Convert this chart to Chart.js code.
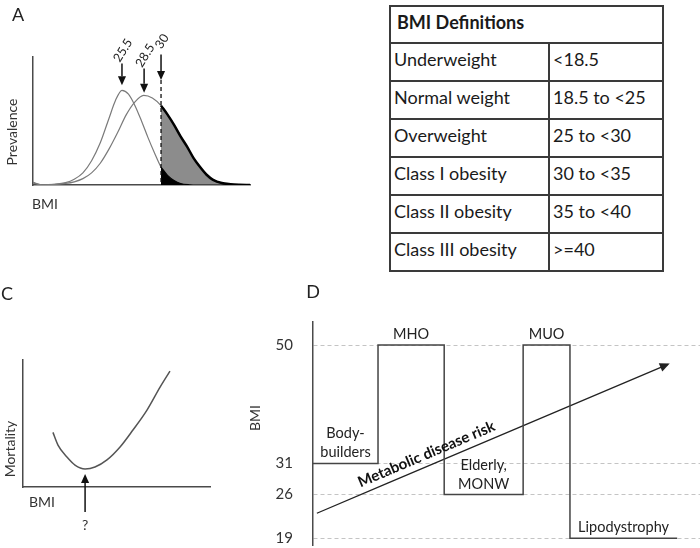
<!DOCTYPE html>
<html>
<head>
<meta charset="utf-8">
<title>BMI figure</title>
<script src="https://cdn.jsdelivr.net/npm/chart.js@4.4.1/dist/chart.umd.min.js"></script>
<style>
  html, body { margin: 0; padding: 0; background: #fff; }
  body { position: relative; width: 700px; height: 548px; overflow: hidden; font-family: Lato, "Open Sans", sans-serif; color: #222; }
  canvas { position: absolute; }
  .t { position: absolute; white-space: nowrap; line-height: 1; transform: translate(-50%, -50%); color: #333; font-size: 14px; }
  .t.v { transform: translate(-50%, -50%) rotate(-90deg); }
  .t.big { font-size: 18px; color: #222; }
  #tbl { position: absolute; left: 389px; top: 5px; width: 273px; border-collapse: collapse; table-layout: fixed; font-size: 18px; color: #1a1a1a; }
  #tbl td { border: 2px solid #3a3a3a; padding: 4px 3px 0 3px; vertical-align: top; overflow: hidden; white-space: nowrap; }
  #tbl tr { height: 38px; }
  #tbl tr.head { height: 37px; }
  #tbl tr.head td { font-weight: bold; padding-left: 6px; }
</style>
</head>
<body>
<canvas id="cA" width="260" height="215" style="left:0;top:0"></canvas>
<canvas id="cC" width="230" height="208" style="left:0;top:340px"></canvas>
<canvas id="cD" width="460" height="248" style="left:240px;top:300px"></canvas>
<table id="tbl"><colgroup><col style="width:159px"><col style="width:114px"></colgroup><tbody></tbody></table>

<div class="t big" style="left:18px;top:14px">A</div>
<div class="t big" style="left:7px;top:293px">C</div>
<div class="t big" style="left:313px;top:291px">D</div>
<div class="t v" style="left:12px;top:132px">Prevalence</div>
<div class="t" style="left:45px;top:204px">BMI</div>
<div class="t v" style="left:10px;top:449px">Mortality</div>
<div class="t" style="left:42px;top:502px">BMI</div>
<div class="t v" style="left:255px;top:418px">BMI</div>

<script>
// A: prevalence curves (arbitrary BMI units 0-100)
const leanX = [0, 4, 10, 15, 19, 23, 27, 31, 35, 38, 41, 44, 47, 50, 53, 56, 59, 62, 65, 68, 72, 76, 100];
const leanY = [2, 0.2, 0.6, 1.8, 4.5, 9.5, 19, 33, 52, 66, 74, 71, 62, 50, 37, 25, 14, 7.5, 3.5, 1.2, 0.2, 0, 0];
const heavyX = [0, 4, 10, 15, 19, 23, 27, 31, 35, 39, 43, 47, 51, 55, 59, 62, 65, 68, 71, 74, 77, 80, 83, 87, 91, 95, 100];
const heavyY = [1.5, 0.2, 0.5, 1.2, 2.5, 5, 9.5, 17, 28, 41, 55, 65, 70, 68, 62, 55, 47, 38, 30, 21, 14, 8, 4, 1.5, 0.6, 0.2, 0];
const cutoffX = 59;
const markerText = ['25.5', '28.5', '30'];
const markerX = [41, 51.2, 59];
const markerTip = [78, 72, 82];
const markerTop = [95, 91, 102];

// B: table
const bmiClasses = ['Underweight', 'Normal weight', 'Overweight', 'Class I obesity', 'Class II obesity', 'Class III obesity'];
const bmiRanges = ['<18.5', '18.5 to <25', '25 to <30', '30 to <35', '35 to <40', '>=40'];

// C: mortality vs BMI
const mortBMI = [16, 18.7, 23.5, 27.8, 33.2, 38.5, 44.9, 51.9, 58.8, 66.3, 73.3, 78.6];
const mortRate = [43, 33, 23.6, 17.3, 14.2, 15.7, 21.3, 31.5, 44.9, 60.6, 78.7, 91.3];

// D: phenotypes
const groupNames = [['Body-', 'builders'], ['MHO'], ['Elderly,', 'MONW'], ['MUO'], ['Lipodystrophy']];
const groupEdges = [0, 16.8, 33.9, 54.3, 66.4, 94.1];
const groupBMI = [31, 50, 26, 50, 19];
const bmiLevels = [50, 31, 26, 19];
const riskX = [1, 91.7];
const riskY = [23, 46.9];

const tb = document.querySelector('#tbl tbody');
const head = tb.insertRow();
head.className = 'head';
const hc = head.insertCell();
hc.colSpan = 2;
hc.textContent = 'BMI Definitions';
bmiClasses.forEach((c, i) => {
  const r = tb.insertRow();
  r.insertCell().textContent = c;
  r.insertCell().textContent = bmiRanges[i];
});

const pts = (xs, ys) => xs.map((x, i) => ({x: x, y: ys[i]}));
const tail = (xs, ys) => pts(xs, ys).filter(p => p.x >= cutoffX);
const axisCol = '#4a4a4a';

function arrow(ctx, x1, y1, x2, y2, color, w, head) {
  const a = Math.atan2(y2 - y1, x2 - x1);
  const bx = x2 - head * Math.cos(a), by = y2 - head * Math.sin(a);
  ctx.strokeStyle = color; ctx.fillStyle = color; ctx.lineWidth = w; ctx.setLineDash([]);
  if (Math.hypot(bx - x1, by - y1) > 0.5) {
    ctx.beginPath(); ctx.moveTo(x1, y1); ctx.lineTo(bx, by); ctx.stroke();
  }
  const s = head * 0.45;
  ctx.beginPath();
  ctx.moveTo(x2, y2);
  ctx.lineTo(bx + s * Math.sin(a), by - s * Math.cos(a));
  ctx.lineTo(bx - s * Math.sin(a), by + s * Math.cos(a));
  ctx.closePath(); ctx.fill();
}

function plainScales(ymin, ymax) {
  return {
    x: { type: 'linear', min: 0, max: 100, ticks: { display: false }, grid: { display: false, drawTicks: false },
         border: { color: axisCol, width: 1.5 }, afterFit: s => { s.height = 0; } },
    y: { min: ymin, max: ymax, ticks: { display: false }, grid: { display: false, drawTicks: false },
         border: { color: axisCol, width: 1.5 }, afterFit: s => { s.width = 0; } }
  };
}

const common = {
  responsive: false, animation: false, events: [],
  elements: { point: { radius: 0 }, line: { cubicInterpolationMode: 'monotone' } },
  plugins: { legend: { display: false }, tooltip: { enabled: false } }
};

// ---- A
new Chart(document.getElementById('cA'), {
  type: 'line',
  data: { datasets: [
    { data: tail(leanX, leanY), borderColor: '#000', borderWidth: 1.2, backgroundColor: '#000', fill: 'origin' },
    { data: tail(heavyX, heavyY), borderColor: '#000', borderWidth: 2.5, backgroundColor: '#8c8c8c', fill: 'origin' },
    { data: pts(leanX, leanY), borderColor: '#7a7a7a', borderWidth: 1.2, fill: false },
    { data: pts(heavyX, heavyY), borderColor: '#7a7a7a', borderWidth: 1.2, fill: false }
  ]},
  options: Object.assign({}, common, {
    layout: { padding: { left: 33, top: 57, right: 10, bottom: 30 } },
    scales: plainScales(0, 100)
  }),
  plugins: [{
    id: 'markersA',
    afterDatasetsDraw(chart) {
      const {ctx, scales: {x, y}} = chart;
      ctx.save();
      const cx = x.getPixelForValue(cutoffX);
      ctx.setLineDash([4, 3]); ctx.strokeStyle = '#111'; ctx.lineWidth = 1.3;
      ctx.beginPath(); ctx.moveTo(cx, y.getPixelForValue(markerTip[2])); ctx.lineTo(cx, y.getPixelForValue(0)); ctx.stroke();
      markerText.forEach((t, i) => {
        const px = x.getPixelForValue(markerX[i]);
        const top = y.getPixelForValue(markerTop[i]);
        arrow(ctx, px, top, px, y.getPixelForValue(markerTip[i]), '#111', 1.5, 9);
        ctx.save();
        ctx.translate(px + 1, top - 13); ctx.rotate(-58 * Math.PI / 180);
        ctx.font = '12.5px Lato'; ctx.textAlign = 'center'; ctx.textBaseline = 'middle'; ctx.fillStyle = '#222';
        ctx.fillText(t, 0, 0);
        ctx.restore();
      });
      ctx.restore();
    }
  }]
});

// ---- C
new Chart(document.getElementById('cC'), {
  type: 'line',
  data: { datasets: [
    { data: pts(mortBMI, mortRate), borderColor: '#555', borderWidth: 1.5, fill: false }
  ]},
  options: Object.assign({}, common, {
    layout: { padding: { left: 23, top: 20, right: 20, bottom: 61 } },
    scales: plainScales(0, 100)
  }),
  plugins: [{
    id: 'arrowC',
    afterDatasetsDraw(chart) {
      const {ctx, scales: {x, y}, chartArea} = chart;
      const lo = mortRate.indexOf(Math.min(...mortRate));
      const px = x.getPixelForValue(mortBMI[lo]);
      ctx.save();
      arrow(ctx, px, chartArea.bottom + 25, px, y.getPixelForValue(mortRate[lo]) + 5, '#111', 1.5, 9);
      ctx.font = '14px Lato'; ctx.textAlign = 'center'; ctx.textBaseline = 'middle'; ctx.fillStyle = '#333';
      ctx.fillText('?', px, chartArea.bottom + 38);
      ctx.restore();
    }
  }]
});

// ---- D
const stepPts = groupBMI.map((v, i) => ({x: groupEdges[i], y: v}));
stepPts.push({x: groupEdges[groupEdges.length - 1], y: groupBMI[groupBMI.length - 1]});

new Chart(document.getElementById('cD'), {
  type: 'line',
  data: { datasets: [
    { data: stepPts, stepped: 'before', borderColor: '#444', borderWidth: 1.5, fill: false },
    { data: pts(riskX, riskY), borderColor: '#222', borderWidth: 1.3, fill: false }
  ]},
  options: Object.assign({}, common, {
    layout: { padding: { left: 0, top: 22, right: 0, bottom: 3 } },
    scales: {
      x: { type: 'linear', display: false, min: 0, max: 100 },
      y: { min: 17.9, max: 53.7,
           afterBuildTicks: s => { s.ticks = bmiLevels.map(v => ({value: v})); },
           afterFit: s => { s.width = 73; s.paddingTop = 0; s.paddingBottom = 0; },
           ticks: { color: '#333', font: { family: 'Lato', size: 15 }, padding: 20 },
           grid: { color: '#c4c4c4', lineWidth: 1, drawTicks: false },
           border: { color: axisCol, width: 1.5, dash: [4, 3] } }
    }
  }),
  plugins: [{
    id: 'labelsD',
    afterDatasetsDraw(chart) {
      const {ctx, scales: {x, y}} = chart;
      ctx.save();
      ctx.font = '14.5px Lato'; ctx.fillStyle = '#222'; ctx.textAlign = 'center'; ctx.textBaseline = 'alphabetic';
      groupNames.forEach((lines, i) => {
        const cx = (x.getPixelForValue(groupEdges[i]) + x.getPixelForValue(groupEdges[i + 1])) / 2;
        const base = y.getPixelForValue(groupBMI[i]) - 6;
        lines.forEach((ln, j) => ctx.fillText(ln, cx, base - (lines.length - 1 - j) * 19));
      });
      const x1 = x.getPixelForValue(riskX[0]), y1 = y.getPixelForValue(riskY[0]);
      const x2 = x.getPixelForValue(riskX[1]), y2 = y.getPixelForValue(riskY[1]);
      const ang = Math.atan2(y2 - y1, x2 - x1);
      arrow(ctx, x2 - 2 * Math.cos(ang), y2 - 2 * Math.sin(ang), x2 + 2 * Math.cos(ang), y2 + 2 * Math.sin(ang), '#222', 1.3, 10);
      ctx.translate(x1 + (x2 - x1) * 0.325, y1 + (y2 - y1) * 0.325);
      ctx.rotate(ang);
      ctx.font = 'bold 15px Lato'; ctx.textBaseline = 'bottom'; ctx.fillStyle = '#111';
      ctx.fillText('Metabolic disease risk', 0, -4);
      ctx.restore();
    }
  }]
});
</script>
</body>
</html>
